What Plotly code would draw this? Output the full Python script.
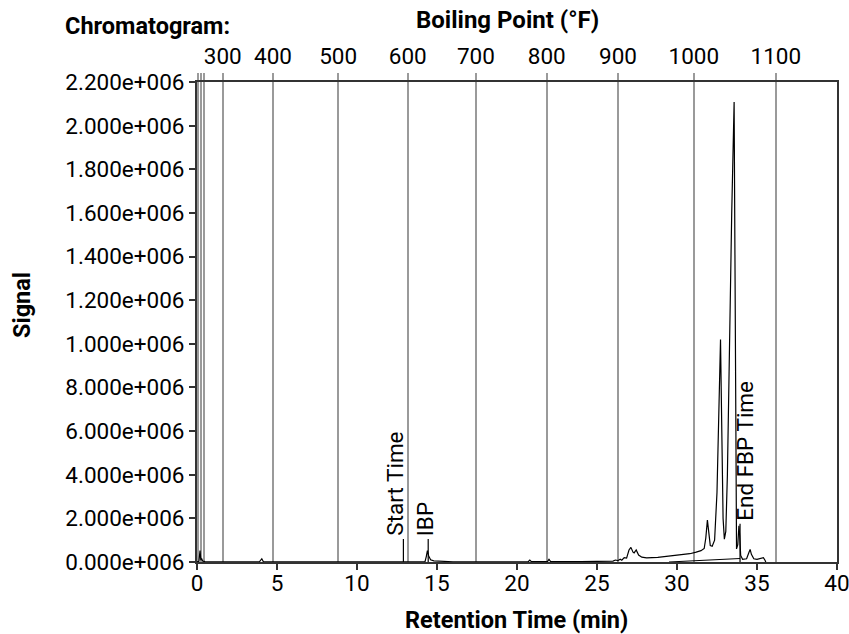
import plotly.graph_objects as go

# ---- data ----
signal_time = [0.00, 0.12, 0.19, 0.24, 0.30, 0.36, 0.50, 1.00, 3.90, 4.05, 4.15, 8.00, 12.00,
               12.90, 14.25, 14.33, 14.40, 14.48, 14.60, 14.80, 15.20, 16.00,
               20.70, 20.80, 20.90, 21.90, 22.00, 22.10, 24.00, 25.50, 26.00, 26.15, 26.30,
               26.45, 26.55, 26.70, 26.85, 27.00, 27.12, 27.25, 27.32, 27.45, 27.60, 27.80,
               28.10, 28.80, 29.50, 30.20, 30.80, 31.20, 31.50, 31.70, 31.80, 31.90, 31.98,
               32.08, 32.20, 32.35, 32.50, 32.62, 32.72, 32.80, 32.88, 32.96, 33.05, 33.15,
               33.26, 33.42, 33.57, 33.63, 33.68, 33.72, 33.80, 33.87, 33.92, 33.98, 34.10,
               34.35, 34.50, 34.57, 34.65, 34.80, 35.00, 35.25, 35.40, 35.50, 35.55]
signal_value = [0, 3000, 52000, 8000, 14000, 4000, 2000, 1000, 1000, 15000, 1000, 500, 500,
                1000, 1500, 25000, 52000, 28000, 10000, 5000, 2500, 1000,
                1000, 9000, 1500, 1500, 12000, 2000, 1500, 2500, 4000, 9000, 6000,
                13000, 8000, 20000, 18000, 55000, 67000, 45000, 42000, 55000, 32000, 22000,
                19000, 21000, 26000, 31000, 38000, 45000, 52000, 62000, 110000, 192000, 130000,
                75000, 72000, 100000, 320000, 750000, 1020000, 600000, 200000, 105000, 140000, 400000,
                975000, 1600000, 2108000, 1200000, 250000, 60000, 80000, 166000, 120000, 30000, 12000,
                15000, 45000, 58000, 35000, 15000, 12000, 16000, 20000, 8000, 0]

baseline_time = [29.5, 33.94]
baseline_value = [0, 16000]

marker_times = [12.90, 14.45, 33.94]
marker_heights = [105000, 105000, 175000]
marker_labels = ["Start Time", "IBP", "End FBP Time"]
marker_text_x = [12.41, 14.26, 34.25]

x_ticks = [0, 5, 10, 15, 20, 25, 30, 35, 40]
y_tickvals = [0, 200000, 400000, 600000, 800000, 1000000, 1200000, 1400000,
              1600000, 1800000, 2000000, 2200000]
y_ticktext = ["0.000e+006", "2.000e+006", "4.000e+006", "6.000e+006", "8.000e+006",
              "1.000e+006", "1.200e+006", "1.400e+006", "1.600e+006", "1.800e+006",
              "2.000e+006", "2.200e+006"]

# boiling point scale (retention time position of each °F tick)
bp_time = [0.08, 0.23, 0.44, 1.61, 4.75, 8.82, 13.17, 17.43, 21.86, 26.31, 31.05, 36.18]
bp_text = ["", "", "", "300", "400", "500", "600", "700", "800", "900", "1000", "1100"]

FONT = "Roboto"
AXC = "#333333"
GRIDC = "#9a9a9a"
TICK_SIZE = 22.5
TITLE_SIZE = 23.5
NOTE_SIZE = 22.5

fig = go.Figure()

fig.add_trace(go.Scatter(x=signal_time, y=signal_value, mode="lines",
                         line=dict(color="black", width=1.2), showlegend=False,
                         hoverinfo="skip"))
fig.add_trace(go.Scatter(x=baseline_time, y=baseline_value, mode="lines",
                         line=dict(color="black", width=1), showlegend=False,
                         hoverinfo="skip"))

mx, my = [], []
for t, h in zip(marker_times, marker_heights):
    mx += [t, t, None]
    my += [0, h, None]
fig.add_trace(go.Scatter(x=mx, y=my, mode="lines", line=dict(color="black", width=1.2),
                         showlegend=False, hoverinfo="skip"))

# dummy trace to activate top axis
fig.add_trace(go.Scatter(x=[0, 40], y=[0, 0], xaxis="x2", mode="lines",
                         line=dict(width=0), showlegend=False, hoverinfo="skip"))

annotations = []
for tx, h, lab in zip(marker_text_x, marker_heights, marker_labels):
    annotations.append(dict(x=tx, y=h, xref="x", yref="y", text=lab, showarrow=False,
                            textangle=-90, xanchor="center", yanchor="bottom",
                            yshift=1, font=dict(family=FONT, size=NOTE_SIZE, color="black")))

W0, W1, H0, H1 = 197, 837, 82, 562
def px(x):
    return (x - W0) / (W1 - W0)
def py(y):
    return (H1 - y) / (H1 - H0)

annotations += [
    dict(x=px(63), y=py(26), xref="paper", yref="paper", text="<b>Chromatogram:</b>",
         showarrow=False, xanchor="left", yanchor="middle",
         font=dict(family=FONT, size=TITLE_SIZE, color="black")),
    dict(x=px(507), y=py(20), xref="paper", yref="paper", text="<b>Boiling Point (°F)</b>",
         showarrow=False, xanchor="center", yanchor="middle",
         font=dict(family=FONT, size=TITLE_SIZE + 0.5, color="black")),
    dict(x=px(22), y=py(305), xref="paper", yref="paper", text="<b>Signal</b>",
         showarrow=False, xanchor="center", yanchor="middle", textangle=-90,
         font=dict(family=FONT, size=TITLE_SIZE, color="black")),
    dict(x=px(516), y=py(620), xref="paper", yref="paper", text="<b>Retention Time (min)</b>",
         showarrow=False, xanchor="center", yanchor="middle",
         font=dict(family=FONT, size=TITLE_SIZE, color="black")),
]

fig.update_layout(
    width=849, height=634,
    margin=dict(l=W0, r=849 - W1, t=H0, b=634 - H1, autoexpand=False),
    paper_bgcolor="white", plot_bgcolor="white",
    font=dict(family=FONT, size=TICK_SIZE, color="black"),
    xaxis=dict(range=[0, 40], tickvals=x_ticks, ticks="outside", ticklen=6,
               tickcolor=AXC, tickwidth=1.5, automargin=False, ticklabeloverflow="allow",
               ticklabelstandoff=-6,
               showline=True, linecolor=AXC, linewidth=2, showgrid=False, zeroline=False,
               tickfont=dict(family=FONT, size=TICK_SIZE, color="black")),
    xaxis2=dict(range=[0, 40], overlaying="x", side="top", anchor="y",
                tickvals=bp_time, ticktext=bp_text, ticks="outside", ticklen=7,
                tickcolor=GRIDC, tickwidth=1.5, automargin=False, ticklabeloverflow="allow",
                showline=True, linecolor=AXC, linewidth=2,
                showgrid=True, gridcolor=GRIDC, gridwidth=1.5, zeroline=False,
                tickfont=dict(family=FONT, size=TICK_SIZE, color="black")),
    yaxis=dict(range=[0, 2200000], tickvals=y_tickvals, ticktext=y_ticktext,
               ticks="outside", ticklen=6, tickcolor=AXC, tickwidth=1.5, automargin=False,
               ticklabeloverflow="allow",
               showline=True, linecolor=AXC, linewidth=2, mirror=True,
               showgrid=False, zeroline=False,
               tickfont=dict(family=FONT, size=TICK_SIZE, color="black")),
    annotations=annotations,
)

fig.write_html("out.html")
